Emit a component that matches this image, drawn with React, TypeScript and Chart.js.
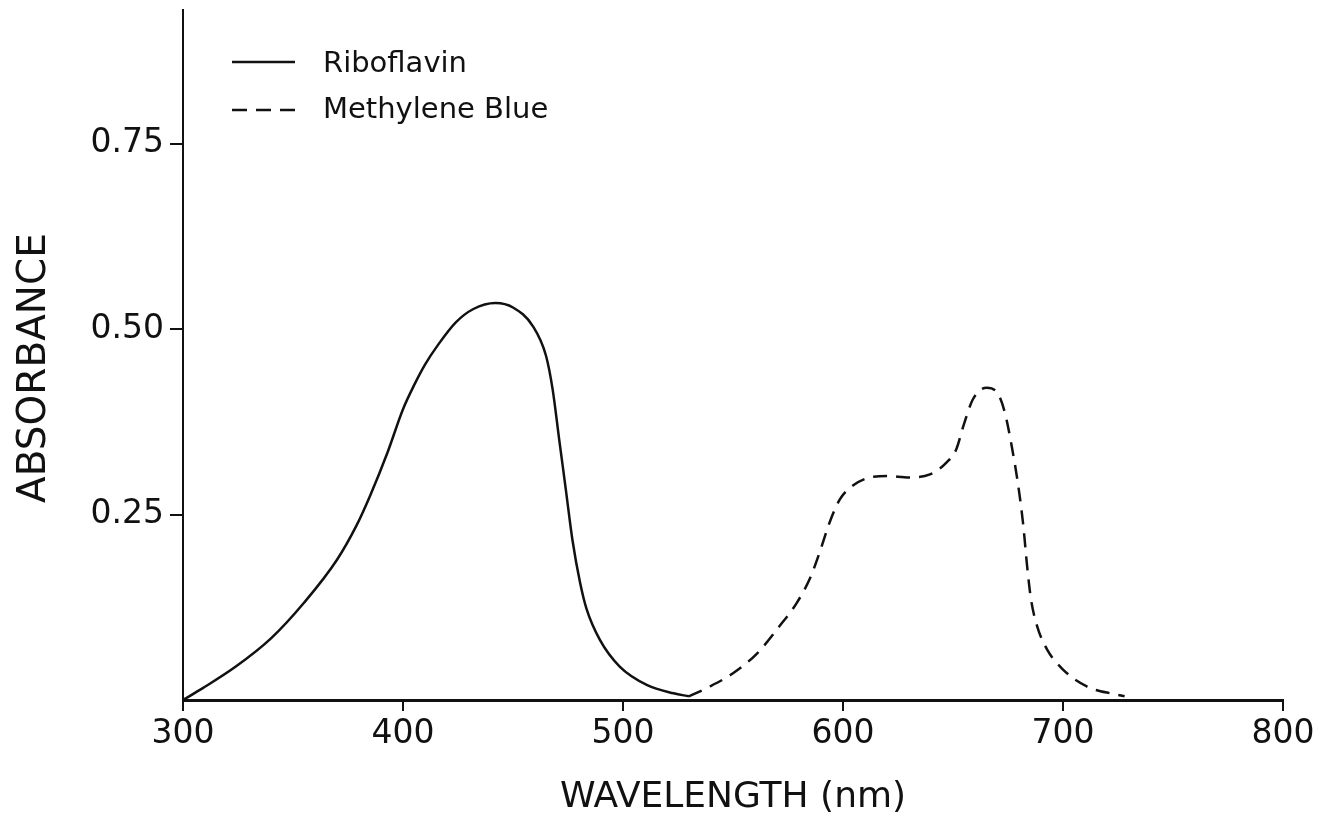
import React, { useEffect, useRef } from "react";
import { Chart, registerables } from "chart.js";

Chart.register(...registerables);

const FONT = "'DejaVu Sans', 'Liberation Sans', sans-serif";
const INK = "#111111";

// Riboflavin spectrum (wavelength nm, absorbance)
const riboflavinNm = [300, 309, 324, 340, 355, 370, 379, 385, 393, 400, 405, 410, 416, 424, 432, 442, 450, 459, 465, 468, 471, 474, 477, 480.5, 483.5, 489.5, 498.5, 511, 523, 530];
const riboflavinAbs = [0, 0.016, 0.045, 0.083, 0.131, 0.189, 0.236, 0.275, 0.334, 0.392, 0.424, 0.452, 0.479, 0.509, 0.527, 0.535, 0.529, 0.504, 0.464, 0.419, 0.351, 0.284, 0.216, 0.158, 0.122, 0.081, 0.045, 0.02, 0.009, 0.005];

// Methylene Blue spectrum (wavelength nm, absorbance)
const methyleneNm = [530, 538, 550, 561, 571, 579, 585, 589.5, 594, 598.5, 604.5, 614, 620, 630, 639.5, 647, 651.5, 654.7, 659, 665.3, 670.6, 673.6, 676.7, 679.7, 682, 683.7, 685.5, 688.3, 692.8, 700, 711, 723, 728];
const methyleneAbs = [0.005, 0.016, 0.036, 0.063, 0.099, 0.131, 0.164, 0.2, 0.24, 0.27, 0.289, 0.301, 0.302, 0.3, 0.304, 0.32, 0.338, 0.369, 0.405, 0.421, 0.412, 0.387, 0.342, 0.288, 0.234, 0.18, 0.135, 0.099, 0.068, 0.041, 0.018, 0.008, 0.005];

const xTickValues = [300, 400, 500, 600, 700, 800];
const yTickValues = [0.25, 0.5, 0.75];
const seriesLabels = ["Riboflavin", "Methylene Blue"];
const xTitle = "WAVELENGTH (nm)";
const yTitle = "ABSORBANCE";

export default function App() {
  const canvasRef = useRef<HTMLCanvasElement | null>(null);

  useEffect(() => {
    const canvas = canvasRef.current;
    if (!canvas) return;

    const decorPlugin = {
      id: "decor",
      afterDraw(chart: any) {
        const { ctx, chartArea } = chart;
        const lx0 = chartArea.left + 49;
        const lx1 = chartArea.left + 112;
        const tx = chartArea.left + 140;
        const rows = [
          { lineY: chartArea.top + 52, baseY: chartArea.top + 62, dash: [] as number[] },
          { lineY: chartArea.top + 100, baseY: chartArea.top + 108, dash: [15, 9] },
        ];
        ctx.save();
        ctx.strokeStyle = INK;
        ctx.fillStyle = INK;
        ctx.lineWidth = 2.5;
        ctx.font = `29px ${FONT}`;
        ctx.textBaseline = "alphabetic";
        ctx.textAlign = "left";
        rows.forEach((r, i) => {
          ctx.setLineDash(r.dash);
          ctx.beginPath();
          ctx.moveTo(lx0, r.lineY);
          ctx.lineTo(lx1, r.lineY);
          ctx.stroke();
          ctx.setLineDash([]);
          ctx.fillText(seriesLabels[i], tx, r.baseY);
        });
        // y-axis title
        ctx.translate(chartArea.left - 148, (chartArea.top + chartArea.bottom) / 2 + 13);
        ctx.rotate(-Math.PI / 2);
        ctx.font = `39px ${FONT}`;
        ctx.textAlign = "center";
        ctx.textBaseline = "middle";
        ctx.fillText(yTitle, 0, 0);
        ctx.restore();
      },
    };

    const chart = new Chart(canvas, {
      type: "line",
      data: {
        datasets: [
          {
            label: seriesLabels[0],
            data: riboflavinNm.map((x, i) => ({ x, y: riboflavinAbs[i] })),
            borderColor: INK,
            borderWidth: 2.5,
            pointRadius: 0,
            fill: false,
            cubicInterpolationMode: "monotone",
          },
          {
            label: seriesLabels[1],
            data: methyleneNm.map((x, i) => ({ x, y: methyleneAbs[i] })),
            borderColor: INK,
            borderWidth: 2.5,
            borderDash: [14, 9],
            pointRadius: 0,
            fill: false,
            cubicInterpolationMode: "monotone",
          },
        ],
      },
      options: {
        animation: false,
        responsive: false,
        layout: { padding: { left: 0, top: 10, right: 56, bottom: 0 } },
        plugins: {
          legend: { display: false },
          tooltip: { enabled: false },
        },
        scales: {
          x: {
            type: "linear",
            min: 300,
            max: 800,
            afterBuildTicks: (s: any) => {
              s.ticks = xTickValues.map((v) => ({ value: v }));
            },
            ticks: {
              font: { family: FONT, size: 33 },
              color: INK,
              padding: 4,
              maxRotation: 0,
              callback: (v: any) => String(v),
            },
            grid: {
              display: true,
              drawOnChartArea: false,
              drawTicks: true,
              tickLength: 11,
              color: INK,
              lineWidth: 2,
            },
            border: { display: true, color: INK, width: 3 },
            title: {
              display: true,
              text: xTitle,
              font: { family: FONT, size: 36 },
              color: INK,
              padding: { top: 0, bottom: 8 },
            },
            afterFit: (s: any) => {
              s.height = 127;
            },
          },
          y: {
            type: "linear",
            min: 0,
            max: 0.93,
            afterBuildTicks: (s: any) => {
              s.ticks = yTickValues.map((v) => ({ value: v }));
            },
            ticks: {
              font: { family: FONT, size: 33 },
              color: INK,
              padding: 6,
              callback: (v: any) => Number(v).toFixed(2),
            },
            grid: {
              display: true,
              drawOnChartArea: false,
              drawTicks: true,
              tickLength: 13,
              color: INK,
              lineWidth: 2,
            },
            border: { display: true, color: INK, width: 2 },
            title: { display: false },
            afterFit: (s: any) => {
              s.width = 183;
              s.paddingTop = 0;
              s.paddingBottom = 0;
            },
          },
        },
      } as any,
      plugins: [decorPlugin],
    });

    return () => {
      chart.destroy();
    };
  }, []);

  return (
    <div style={{ position: "absolute", left: 0, top: 0, width: 1339, height: 827, background: "#fff" }}>
      <canvas ref={canvasRef} width={1339} height={827} style={{ display: "block" }} />
    </div>
  );
}
